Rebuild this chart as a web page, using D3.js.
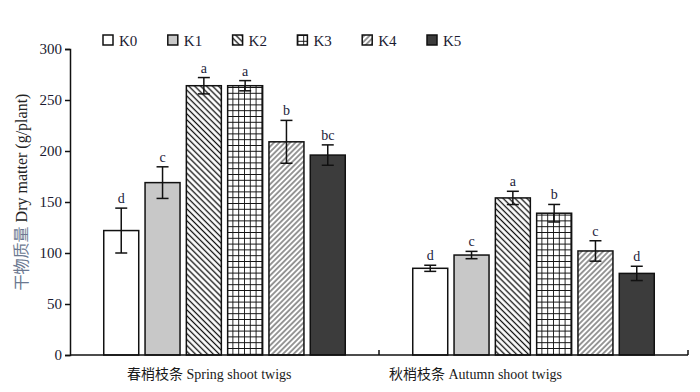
<!DOCTYPE html>
<html><head><meta charset="utf-8">
<script src="https://cdn.jsdelivr.net/npm/d3@7"></script>
<style>body{margin:0;background:#fff}svg{display:block}</style>
</head><body>
<svg id="c" width="700" height="392"></svg>
<script>
const groups = ["春梢枝条 Spring shoot twigs", "秋梢枝条 Autumn shoot twigs"];
const keys = ["K0", "K1", "K2", "K3", "K4", "K5"];
const springValues = [122, 169, 264, 264, 209, 196];
const springErrors = [22, 15.5, 8, 5, 21, 10];
const springLetters = ["d", "c", "a", "a", "b", "bc"];
const autumnValues = [85, 98, 154, 139, 102, 80];
const autumnErrors = [3, 3.6, 6.5, 8.6, 10, 7];
const autumnLetters = ["d", "c", "a", "b", "c", "d"];
const yTicks = [0, 50, 100, 150, 200, 250, 300];

(function () {
const data = [
  {g: groups[0], vals: springValues, errs: springErrors, lets: springLetters},
  {g: groups[1], vals: autumnValues, errs: autumnErrors, lets: autumnLetters}
];

const svg = d3.select("#c");
const serif = "'Liberation Serif','Times New Roman','Noto Sans CJK SC',serif";
const mLeft = 70, mRight = 688, mTop = 49, mBottom = 355;

const x0 = d3.scaleBand().domain(groups).range([mLeft, mRight]).paddingInner(0).paddingOuter(0);
const x1 = d3.scaleBand().domain(keys).range([0, x0.bandwidth()]).paddingInner(0.153).paddingOuter(0.817);
const y = d3.scaleLinear().domain([0, 300]).range([mBottom, mTop]);

const defs = svg.append("defs");
function lines(id, rot, sp, sw, col) {
  const p = defs.append("pattern").attr("id", id).attr("patternUnits", "userSpaceOnUse")
    .attr("width", sp).attr("height", sp).attr("patternTransform", `rotate(${rot})`);
  p.append("rect").attr("width", sp).attr("height", sp).attr("fill", "#fff");
  p.append("line").attr("x1", sp/2).attr("x2", sp/2).attr("y1", -1).attr("y2", sp+1)
    .attr("stroke", col).attr("stroke-width", sw);
}
lines("pK2", -45, 4.2, 1.3, "#111");
lines("pK4", 45, 3.8, 1.0, "#333");
{
  const sp = 5.8;
  const p = defs.append("pattern").attr("id", "pK3").attr("patternUnits", "userSpaceOnUse")
    .attr("width", sp).attr("height", sp).attr("x", 0).attr("y", 0);
  p.append("rect").attr("width", sp).attr("height", sp).attr("fill", "#fff");
  p.append("path").attr("d", `M0,0H${sp}M0,0V${sp}`).attr("stroke", "#111").attr("stroke-width", 1.8);
}
const fills = {K0: "#fff", K1: "#c8c8c8", K2: "url(#pK2)", K3: "url(#pK3)", K4: "url(#pK4)", K5: "#3c3c3c"};

const g = svg.selectAll("g.grp").data(data).join("g").attr("class", "grp")
  .attr("transform", d => `translate(${x0(d.g)},0)`);

const items = d => keys.map((k, i) => ({k, v: d.vals[i], e: d.errs[i], l: d.lets[i]}));

g.selectAll("rect.bar").data(items).join("rect").attr("class", "bar")
  .attr("x", d => x1(d.k)).attr("width", x1.bandwidth())
  .attr("y", d => y(d.v)).attr("height", d => y(0) - y(d.v))
  .attr("fill", d => fills[d.k]).attr("stroke", "#111").attr("stroke-width", 1.5);

const cap = 6;
const cx = d => x1(d.k) + x1.bandwidth()/2;
const eb = g.selectAll("g.eb").data(items).join("g").attr("class", "eb")
  .attr("stroke", "#111").attr("stroke-width", 1.5);
eb.append("line").attr("x1", cx).attr("x2", cx)
  .attr("y1", d => y(d.v + d.e)).attr("y2", d => y(d.v - d.e));
eb.append("line").attr("x1", d => cx(d) - cap).attr("x2", d => cx(d) + cap)
  .attr("y1", d => y(d.v + d.e)).attr("y2", d => y(d.v + d.e));
eb.append("line").attr("x1", d => cx(d) - cap).attr("x2", d => cx(d) + cap)
  .attr("y1", d => y(d.v - d.e)).attr("y2", d => y(d.v - d.e));

g.selectAll("text.let").data(items).join("text").attr("class", "let")
  .attr("x", cx).attr("y", d => y(d.v + d.e) - 5)
  .attr("text-anchor", "middle").attr("font-family", serif).attr("font-size", 14)
  .attr("fill", "#22223a").text(d => d.l);

const ya = svg.append("g").attr("transform", `translate(${mLeft},0)`)
  .call(d3.axisLeft(y).tickValues(yTicks).tickSizeOuter(0).tickSize(5).tickPadding(3));
ya.select(".domain").attr("stroke", "#111").attr("stroke-width", 1.5);
ya.selectAll(".tick line").attr("stroke", "#111").attr("stroke-width", 1.5);
ya.selectAll("text").attr("font-family", serif).attr("font-size", 15).attr("fill", "#1a1a30");

const xa = svg.append("g").attr("transform", `translate(0,${mBottom})`);
xa.append("line").attr("x1", mLeft).attr("x2", mRight).attr("stroke", "#111").attr("stroke-width", 1.5);
xa.selectAll("line.tk").data(groups).join("line").attr("class", "tk")
  .attr("x1", d => x0(d) + x0.bandwidth()).attr("x2", d => x0(d) + x0.bandwidth())
  .attr("y1", 0).attr("y2", -5).attr("stroke", "#111").attr("stroke-width", 1.5);
const labelOffset = [57, 10];
xa.selectAll("text").data(groups).join("text")
  .attr("x", (d, i) => x0(d) + labelOffset[i]).attr("y", 24)
  .attr("font-family", serif).attr("font-size", 14).attr("fill", "#1a1a1a").text(d => d);

const yt = svg.append("text").attr("transform", "translate(27,192) rotate(-90)")
  .attr("text-anchor", "middle").attr("font-family", serif).attr("font-size", 16);
yt.append("tspan").attr("fill", "#6b7890").text("干物质量 ");
yt.append("tspan").attr("fill", "#222").text("Dry matter (g/plant)");

const lg = svg.selectAll("g.lg").data(keys).join("g").attr("class", "lg")
  .attr("transform", (d, i) => `translate(${103 + i * 64.8},35)`);
lg.append("rect").attr("width", 10).attr("height", 10).attr("fill", d => fills[d])
  .attr("stroke", "#111").attr("stroke-width", 1.5);
lg.append("text").attr("x", 16).attr("y", 10.5).attr("font-family", serif).attr("font-size", 15)
  .attr("fill", "#1a1a30").text(d => d);
})();
</script>
</body></html>
